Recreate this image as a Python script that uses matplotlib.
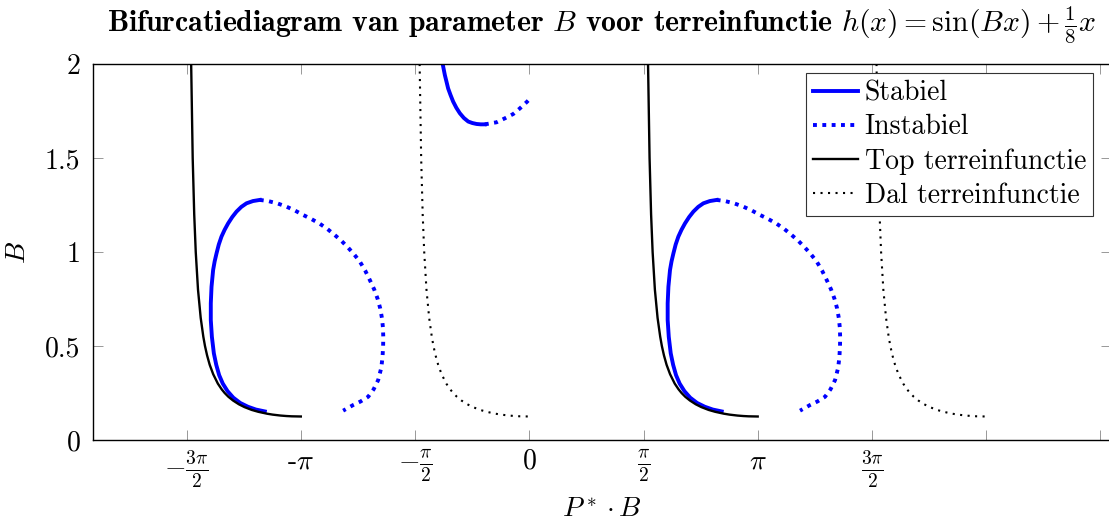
import numpy as np
import matplotlib.pyplot as plt

# Computer Modern look (bundled with matplotlib)
plt.rcParams['font.family'] = 'cmr10'
plt.rcParams['mathtext.fontset'] = 'cm'
plt.rcParams['axes.unicode_minus'] = False
plt.rcParams['axes.formatter.use_mathtext'] = True

# --- data (x = P* . B, y = B), one period; the second period is shifted by 2*pi ---
# terrain extrema (top = solid black, dal = dotted black)
b_terrein = [2.0, 1.5, 1.2, 1.0, 0.8, 0.65, 0.55, 0.5, 0.45, 0.4, 0.35, 0.3, 0.27,
             0.25, 0.23, 0.21, 0.19, 0.175, 0.16, 0.15, 0.14, 0.135, 0.13, 0.1275,
             0.126, 0.125]
top_u = [-4.650, -4.629, -4.608, -4.587, -4.556, -4.519, -4.483, -4.460, -4.431,
         -4.395, -4.347, -4.283, -4.231, -4.189, -4.138, -4.074, -3.994, -3.917,
         -3.817, -3.727, -3.608, -3.530, -3.420, -3.340, -3.268, -3.142]
dal_u = [-1.508, -1.487, -1.466, -1.445, -1.414, -1.377, -1.341, -1.318, -1.289,
         -1.253, -1.206, -1.141, -1.089, -1.047, -0.996, -0.933, -0.852, -0.775,
         -0.675, -0.586, -0.467, -0.388, -0.278, -0.198, -0.126, 0.0]

# equilibrium loop (stable part, from the top down)
stabiel_u = [-3.706, -3.800, -3.889, -3.960, -4.026, -4.085, -4.142, -4.190, -4.233,
             -4.270, -4.301, -4.327, -4.348, -4.370, -4.380, -4.380, -4.365, -4.338,
             -4.305, -4.265, -4.215, -4.150, -4.070, -3.975, -3.870, -3.760, -3.637]
stabiel_b = [1.277, 1.271, 1.259, 1.240, 1.215, 1.186, 1.152, 1.118, 1.082, 1.040,
             0.993, 0.950, 0.904, 0.815, 0.727, 0.638, 0.549, 0.461, 0.400, 0.345,
             0.300, 0.260, 0.225, 0.197, 0.177, 0.162, 0.152]
# unstable part, from the top round to the bottom
instabiel_u = [-3.706, -3.591, -3.460, -3.338, -3.220, -3.110, -2.995, -2.880, -2.775,
               -2.674, -2.580, -2.491, -2.408, -2.330, -2.258, -2.193, -2.132, -2.085,
               -2.050, -2.027, -2.013, -2.008, -2.010, -2.018, -2.035, -2.078, -2.140,
               -2.216, -2.320, -2.422, -2.495, -2.560]
instabiel_b = [1.277, 1.271, 1.258, 1.241, 1.220, 1.197, 1.175, 1.150, 1.122, 1.090,
               1.058, 1.023, 0.987, 0.949, 0.902, 0.851, 0.800, 0.750, 0.700, 0.650,
               0.600, 0.549, 0.500, 0.443, 0.385, 0.319, 0.270, 0.230, 0.205, 0.186,
               0.170, 0.156]

# upper branch near B ~ 1.7 (only in the first period)
boven_stabiel_u = [-1.205, -1.184, -1.161, -1.138, -1.116, -1.083, -1.047, -1.003,
                   -0.955, -0.900, -0.840, -0.783, -0.725, -0.668, -0.611]
boven_stabiel_b = [2.03, 1.986, 1.941, 1.905, 1.870, 1.835, 1.800, 1.767, 1.738,
                   1.713, 1.694, 1.686, 1.681, 1.679, 1.679]
boven_instabiel_u = [-0.611, -0.450, -0.336, -0.221, -0.129, -0.029, 0.0]
boven_instabiel_b = [1.679, 1.690, 1.711, 1.734, 1.764, 1.800, 1.812]

periode_shift = [0, 2 * np.pi]

xtick_pos = [-1.5 * np.pi, -np.pi, -0.5 * np.pi, 0, 0.5 * np.pi, np.pi, 1.5 * np.pi,
             2 * np.pi, 2.5 * np.pi]
xtick_lab = [r'$-\frac{3\pi}{2}$', r'-$\pi$', r'$-\frac{\pi}{2}$', r'$0$',
             r'$\frac{\pi}{2}$', r'$\pi$', r'$\frac{3\pi}{2}$', '', '']
ytick_pos = [0, 0.5, 1, 1.5, 2]
ytick_lab = ['0', '0.5', '1', '1.5', '2']

# --- figure ---
W, H = 1109, 522
fig = plt.figure(figsize=(W / 100, H / 100), dpi=100)
ax = fig.add_axes([93 / W, 82 / H, 1018 / W, 376 / H])

blue = '#0000ff'
dots_blue = (0, (1, 1.4))
dots_black = (0, (1, 2.6))

for i, s in enumerate(periode_shift):
    first = i == 0
    ax.plot(np.array(stabiel_u) + s, stabiel_b, color=blue, lw=2.8,
            solid_joinstyle='round', label='Stabiel' if first else None)
    ax.plot(np.array(instabiel_u) + s, instabiel_b, color=blue, lw=2.8,
            linestyle=dots_blue, label='Instabiel' if first else None)
    ax.plot(np.array(top_u) + s, b_terrein, color='black', lw=1.7,
            label='Top terreinfunctie' if first else None)
    ax.plot(np.array(dal_u) + s, b_terrein, color='black', lw=1.5,
            linestyle=dots_black, label='Dal terreinfunctie' if first else None)

ax.plot(boven_stabiel_u, boven_stabiel_b, color=blue, lw=2.8, solid_joinstyle='round')
ax.plot(boven_instabiel_u, boven_instabiel_b, color=blue, lw=2.8, linestyle=dots_blue)

ax.set_xlim(-6, 8)
ax.set_ylim(0, 2)
ax.set_xticks(xtick_pos)
ax.set_xticklabels(xtick_lab)
ax.set_yticks(ytick_pos)
ax.set_yticklabels(ytick_lab)
ax.tick_params(direction='in', length=7.5, width=0.6, color='#888888',
               top=True, right=True, labelsize=20)
ax.tick_params(axis='x', pad=6)
ax.tick_params(axis='y', pad=9)
for sp in ax.spines.values():
    sp.set_linewidth(1.0)
    sp.set_color('black')

ax.set_xlabel(r'$P^* \cdot B$', fontsize=20)
ax.xaxis.set_label_coords(0.5, -(497 - 440) / 376)
ax.set_ylabel(r'$B$', fontsize=20)
ax.yaxis.set_label_coords(-(93 - 31) / 1018, 0.5)

fig.text(602 / W, 1 - 31 / H,
         r'Bifurcatiediagram van parameter $B$ voor terreinfunctie $h(x) = \sin(Bx) + \frac{1}{8}x$',
         fontfamily='cmb10', fontsize=21.4, ha='center', va='baseline')

leg = ax.legend(loc='upper right', bbox_to_anchor=(1093 / W, 1 - 73 / H),
                bbox_transform=fig.transFigure, borderaxespad=0, fancybox=False,
                edgecolor='#333333', framealpha=1, fontsize=20, handlelength=1.6,
                handletextpad=0.25, labelspacing=0.28, borderpad=0.25)
leg.get_frame().set_linewidth(0.8)

plt.savefig('out.png', dpi=100)
